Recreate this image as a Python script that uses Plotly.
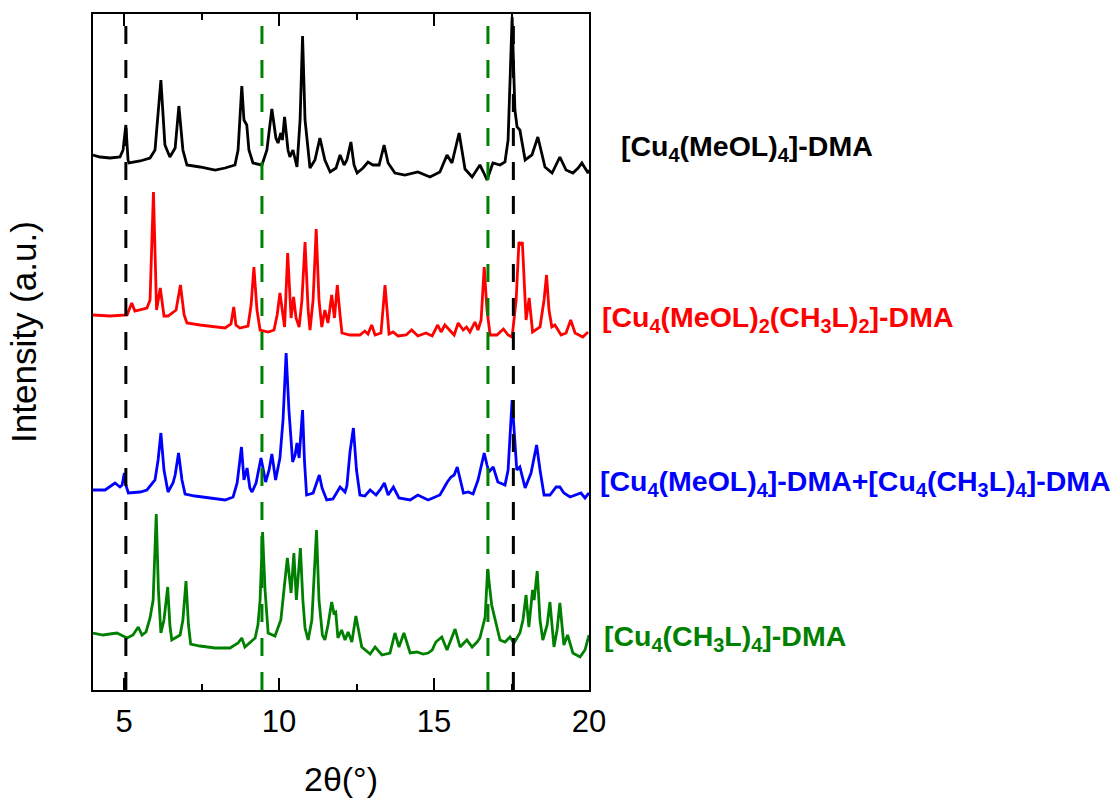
import plotly.graph_objects as go

x_meol4 = [4.00,4.23,4.55,4.87,4.97,5.06,5.13,5.16,5.52,5.84,6.00,6.19,6.32,6.48,6.65,6.77,6.90,7.03,7.45,7.94,
           8.26,8.58,8.68,8.80,8.87,8.96,9.03,9.16,9.45,9.61,9.77,9.90,9.97,10.06,10.11,10.18,10.29,10.35,10.45,10.58,
           10.68,10.76,10.84,11.00,11.16,11.32,11.48,11.65,11.84,11.97,12.10,12.19,12.32,12.42,12.52,12.71,12.87,13.03,13.23,13.39,
           13.52,13.74,14.06,14.48,14.87,15.19,15.42,15.58,15.81,16.00,16.23,16.48,16.61,16.71,16.90,17.13,17.29,17.39,17.52,17.61,
           17.68,17.77,17.94,18.16,18.35,18.58,18.81,18.94,19.06,19.26,19.48,19.65,19.77,19.97,20.00]
y_meol4 = [535,533,532,533,540,565,530,527,529,532,540,610,545,533,542,584,540,525,523,520,
           522,525,540,604,570,565,540,527,525,540,581,552,547,557,550,573,540,533,540,523,
           570,654,570,522,530,552,530,518,522,535,525,530,548,525,517,522,528,525,525,545,
           527,517,515,518,513,518,535,527,557,521,513,525,517,510,527,525,528,550,673,580,
           563,560,530,535,553,523,517,525,533,520,517,522,527,517,520]

x_mixed22 = [4.00,4.55,5.10,5.25,5.35,5.52,5.74,5.84,5.95,6.05,6.17,6.29,6.42,6.68,6.82,6.94,7.03,7.45,7.94,8.26,
             8.45,8.54,8.61,8.74,9.00,9.10,9.19,9.29,9.39,9.65,9.84,9.94,10.03,10.13,10.18,10.28,10.39,10.47,10.55,10.65,
             10.74,10.84,10.94,11.00,11.10,11.20,11.29,11.38,11.48,11.58,11.70,11.79,11.88,11.97,12.03,12.29,12.61,12.77,12.87,12.99,
             13.10,13.29,13.42,13.55,13.68,13.84,14.10,14.28,14.48,14.74,14.94,15.12,15.23,15.35,15.55,15.65,15.78,15.94,16.05,16.16,
             16.32,16.42,16.52,16.62,16.71,16.81,17.03,17.24,17.39,17.52,17.65,17.74,17.81,17.85,17.97,18.07,18.18,18.42,18.55,18.63,
             18.71,18.80,18.90,19.10,19.26,19.41,19.55,19.80,19.97]
y_mixed22 = [375,374,375,387,379,380,382,390,498,380,402,374,374,380,405,375,367,365,363,362,
             366,383,365,362,364,385,423,380,360,358,360,375,397,370,363,437,372,393,372,363,
             390,448,380,360,390,461,390,363,380,367,395,372,405,375,357,355,355,359,356,365,
             355,357,405,356,358,354,355,360,354,357,354,365,358,365,358,355,367,360,363,358,
             368,360,370,423,380,355,355,361,355,353,390,448,445,448,370,392,358,363,390,415,
             380,363,365,355,357,370,357,353,358]

x_blend = [4.00,4.39,4.71,4.87,4.94,5.01,5.06,5.14,5.52,5.74,6.00,6.10,6.19,6.29,6.42,6.58,6.65,6.76,6.87,6.97,
           7.29,7.77,8.26,8.52,8.65,8.79,8.87,8.97,9.06,9.13,9.26,9.42,9.57,9.68,9.77,9.89,10.03,10.13,10.23,10.32,
           10.44,10.52,10.58,10.65,10.69,10.76,10.82,10.89,11.10,11.19,11.30,11.39,11.54,11.74,11.97,12.13,12.19,12.29,12.40,12.50,
           12.61,12.77,12.94,13.13,13.26,13.40,13.52,13.69,13.87,14.23,14.48,14.81,15.19,15.32,15.43,15.55,15.65,15.75,15.84,15.95,
           16.10,16.26,16.42,16.55,16.62,16.71,16.77,16.91,17.06,17.29,17.39,17.52,17.61,17.67,17.77,17.94,18.13,18.31,18.42,18.55,
           18.74,18.94,19.06,19.19,19.39,19.55,19.74,19.87,20.00]
y_blend = [200,200,207,203,205,217,205,197,198,200,210,230,257,220,198,207,215,237,210,196,
           194,192,190,193,207,243,210,222,202,198,207,232,208,220,236,210,232,270,337,280,
           228,235,247,232,250,280,230,195,197,205,215,202,190,191,203,198,204,238,262,220,
           195,194,200,195,200,207,195,203,192,190,195,190,195,202,208,213,215,223,210,197,
           198,196,210,228,237,225,218,223,208,205,220,290,250,220,223,202,217,245,220,195,
           195,203,203,197,193,195,197,192,197]

x_ch3l4 = [4.00,4.32,4.77,5.10,5.29,5.46,5.58,5.71,5.84,5.94,6.04,6.11,6.19,6.29,6.41,6.48,6.54,6.81,6.90,7.00,
           7.08,7.15,7.45,7.94,8.42,8.68,8.80,8.90,9.23,9.32,9.39,9.47,9.55,9.65,9.87,10.06,10.16,10.27,10.39,10.48,
           10.56,10.69,10.77,10.84,10.94,11.06,11.21,11.29,11.40,11.48,11.58,11.70,11.77,11.83,11.90,12.02,12.13,12.23,12.35,12.48,
           12.67,12.94,13.10,13.32,13.58,13.74,13.87,14.03,14.23,14.45,14.65,14.81,14.94,15.06,15.25,15.42,15.68,15.84,16.06,16.23,
           16.39,16.48,16.65,16.73,16.86,17.13,17.29,17.45,17.58,17.77,17.87,17.97,18.06,18.18,18.23,18.33,18.42,18.51,18.65,18.74,
           18.87,18.97,19.06,19.19,19.31,19.48,19.71,19.87,20.00]
y_ch3l4 = [57,55,57,52,55,63,55,58,72,90,176,100,57,70,103,65,50,55,70,109,
           65,46,44,42,42,47,52,43,52,65,90,158,100,57,54,70,100,132,97,137,
           90,142,90,62,50,70,160,90,55,50,65,88,77,78,52,60,50,58,48,74,
           43,36,43,35,37,57,43,57,37,38,36,37,40,48,53,40,61,43,50,43,
           48,52,73,121,85,50,48,53,47,57,70,95,63,100,90,119,70,50,65,88,
           43,60,87,45,55,37,33,40,55]

series_names = ["[Cu<sub>4</sub>(MeOL)<sub>4</sub>]-DMA",
                "[Cu<sub>4</sub>(MeOL)<sub>2</sub>(CH<sub>3</sub>L)<sub>2</sub>]-DMA",
                "[Cu<sub>4</sub>(MeOL)<sub>4</sub>]-DMA+[Cu<sub>4</sub>(CH<sub>3</sub>L)<sub>4</sub>]-DMA",
                "[Cu<sub>4</sub>(CH<sub>3</sub>L)<sub>4</sub>]-DMA"]
series_colors = ["#000000", "#ff0000", "#0000ff", "#008000"]
label_px = [1.060, 1.022, 1.018, 1.026]
label_py = [0.802, 0.549, 0.306, 0.077]

ref_lines_x = [5.06, 9.45, 16.74, 17.56]
ref_lines_color = ["#000000", "#008000", "#008000", "#000000"]

x_ticks = [5, 10, 15, 20]

fig = go.Figure()
xs = [x_meol4, x_mixed22, x_blend, x_ch3l4]
ys = [y_meol4, y_mixed22, y_blend, y_ch3l4]
for xv, yv, name, col in zip(xs, ys, series_names, series_colors):
    fig.add_trace(go.Scatter(x=xv, y=yv, mode="lines", name=name,
                             line=dict(color=col, width=2.8), showlegend=False))

for xv, col in zip(ref_lines_x, ref_lines_color):
    fig.add_shape(type="line", xref="x", yref="paper", x0=xv, x1=xv, y0=0, y1=1,
                  line=dict(color=col, width=3, dash="18px,16px"))

for name, col, lx, ly in zip(series_names, series_colors, label_px, label_py):
    fig.add_annotation(x=lx, y=ly, xref="paper", yref="paper", text="<b>" + name + "</b>",
                       showarrow=False, xanchor="left", yanchor="middle",
                       font=dict(family="Liberation Sans, Arial", size=28.5, color=col))

fig.add_annotation(x=-0.14, y=0.529, xref="paper", yref="paper", text="Intensity (a.u.)",
                   textangle=-90, showarrow=False, xanchor="center", yanchor="middle",
                   font=dict(family="Liberation Sans, Arial", size=35, color="#000000"))

fig.update_layout(
    width=1114, height=798,
    margin=dict(l=93, r=525, t=14, b=108),
    plot_bgcolor="white", paper_bgcolor="white",
    font=dict(family="Liberation Sans, Arial", color="#000000"),
)
fig.update_xaxes(range=[4, 20], tickvals=x_ticks, ticks="inside", ticklen=12, tickwidth=2,
                 tickcolor="#000000", showline=True, linewidth=2, linecolor="#000000",
                 mirror="ticks", showgrid=False, zeroline=False, automargin=False,
                 tickfont=dict(size=31, family="Liberation Sans, Arial"),
                 ticklabelstandoff=3,
                 minor=dict(dtick=2.5, tick0=5, ticks="inside", ticklen=6, tickwidth=2, tickcolor="#000000", showgrid=False),
                 title=dict(text="2θ(°)", font=dict(size=34, family="Liberation Sans, Arial"), standoff=29))
fig.update_yaxes(range=[0, 676], showticklabels=False, ticks="", showline=True, linewidth=2,
                 linecolor="#000000", mirror=True, showgrid=False, zeroline=False, automargin=False)

fig.write_html("out.html")
